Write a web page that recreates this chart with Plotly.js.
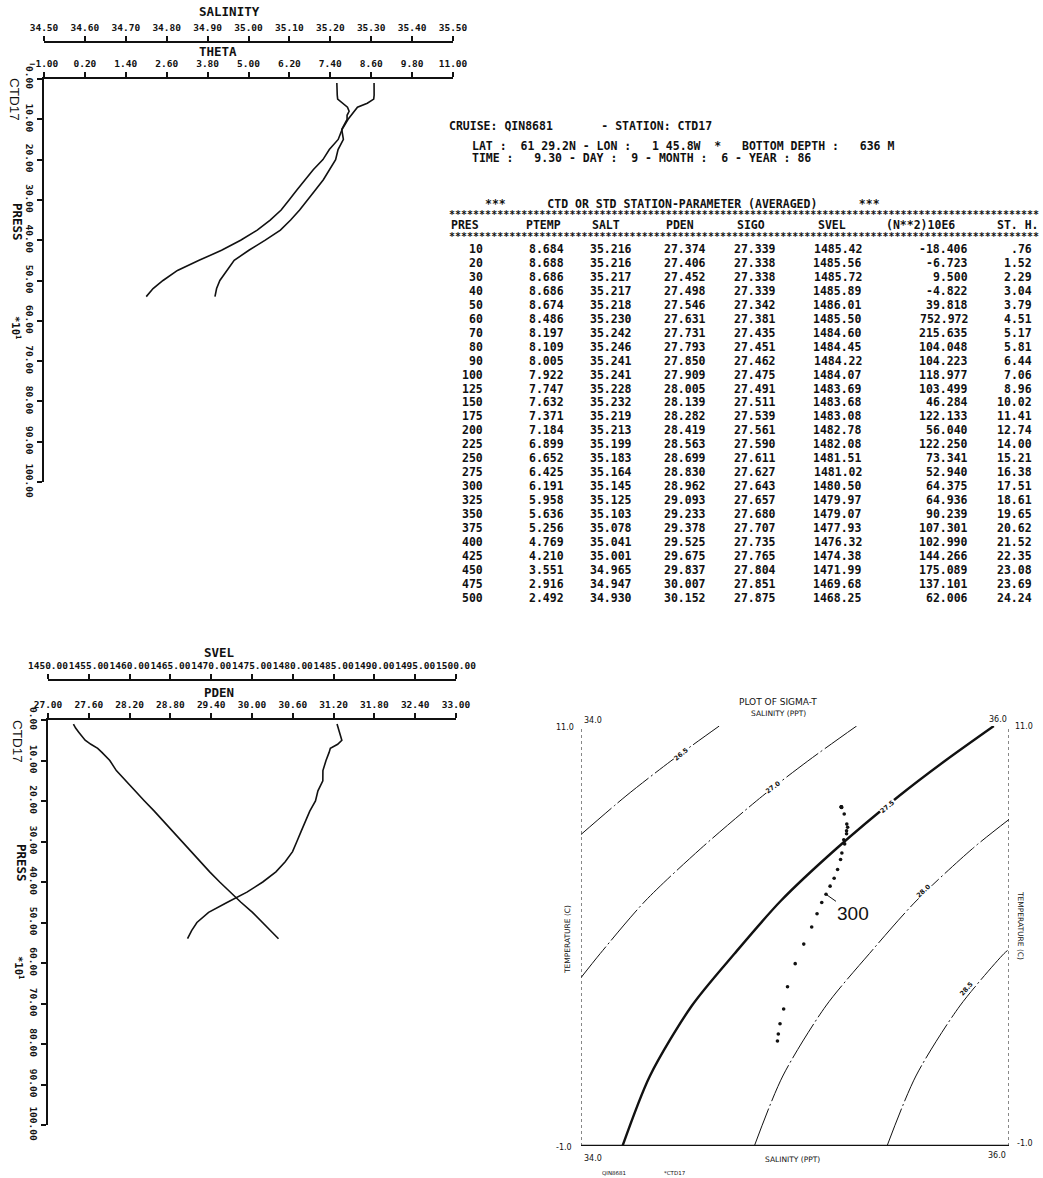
<!DOCTYPE html>
<html><head><meta charset="utf-8">
<script src="https://cdn.plot.ly/plotly-3.0.1.min.js"></script>
<style>html,body{margin:0;padding:0;background:#fff}#chart{width:1043px;height:1178px}</style>
</head><body><div id="chart"></div>
<script>
// ---- station table data (read from the listing) ----
const PRES  = [10,20,30,40,50,60,70,80,90,100,125,150,175,200,225,250,275,300,325,350,375,400,425,450,475,500];
const PTEMP = [8.684,8.688,8.686,8.686,8.674,8.486,8.197,8.109,8.005,7.922,7.747,7.632,7.371,7.184,6.899,6.652,6.425,6.191,5.958,5.636,5.256,4.769,4.210,3.551,2.916,2.492];
const SALT  = [35.216,35.216,35.217,35.217,35.218,35.230,35.242,35.246,35.241,35.241,35.228,35.232,35.219,35.213,35.199,35.183,35.164,35.145,35.125,35.103,35.078,35.041,35.001,34.965,34.947,34.930];
const PDEN  = [27.374,27.406,27.452,27.498,27.546,27.631,27.731,27.793,27.850,27.909,28.005,28.139,28.282,28.419,28.563,28.699,28.830,28.962,29.093,29.233,29.378,29.525,29.675,29.837,30.007,30.152];
const SIGO  = [27.339,27.338,27.338,27.339,27.342,27.381,27.435,27.451,27.462,27.475,27.491,27.511,27.539,27.561,27.590,27.611,27.627,27.643,27.657,27.680,27.707,27.735,27.765,27.804,27.851,27.875];
const SVEL  = [1485.42,1485.56,1485.72,1485.89,1486.01,1485.50,1484.60,1484.45,1484.22,1484.07,1483.69,1483.68,1483.08,1482.78,1482.08,1481.51,1481.02,1480.50,1479.97,1479.07,1477.93,1476.32,1474.38,1471.99,1469.68,1468.25];
const N2    = [-18.406,-6.723,9.500,-4.822,39.818,752.972,215.635,104.048,104.223,118.977,103.499,46.284,122.133,56.040,122.250,73.341,52.940,64.375,64.936,90.239,107.301,102.990,144.266,175.089,137.101,62.006];
const STH   = [0.76,1.52,2.29,3.04,3.79,4.51,5.17,5.81,6.44,7.06,8.96,10.02,11.41,12.74,14.00,15.21,16.38,17.51,18.61,19.65,20.62,21.52,22.35,23.08,23.69,24.24];

// profile continues below the last listed level
const TAIL_PRES  = [520, 540];
const TAIL_PTEMP = [2.20, 2.00];
const TAIL_SALT  = [34.922, 34.918];
const TAIL_PDEN  = [30.27, 30.39];
const TAIL_SVEL  = [1467.6, 1467.1];

// tick values
const THETA_TICKS = [-1,0.2,1.4,2.6,3.8,5,6.2,7.4,8.6,9.8,11];
const SAL_TICKS   = [34.5,34.6,34.7,34.8,34.9,35.0,35.1,35.2,35.3,35.4,35.5];
const PDEN_TICKS  = [27,27.6,28.2,28.8,29.4,30,30.6,31.2,31.8,32.4,33];
const SVEL_TICKS  = [1450,1455,1460,1465,1470,1475,1480,1485,1490,1495,1500];
const PRES_TICKS  = [0,100,200,300,400,500,600,700,800,900,1000];

// sigma-t isopleths (salinity, temperature)
const ISO_LEVELS = ['26.5','27.0','27.5','28.0','28.5'];
const ISO_S = [
  [34.00,34.21,34.42,34.646],
  [34.00,34.09,34.30,34.56,34.848,35.06,35.288],
  [34.194,34.322,34.517,34.718,34.933,35.194,35.486,35.70,35.929],
  [34.81,34.943,35.144,35.348,35.566,35.83,36.0],
  [35.43,35.565,35.77,35.977,36.0]
];
const ISO_T = [
  [7.9,9.0,10.0,11.0],
  [3.81,4.5,6.0,7.5,9.0,10.0,11.0],
  [-1,1,3,4.5,6,7.5,9,10,11],
  [-1,1,3,4.5,6,7.5,8.33],
  [-1,1,3,4.5,4.62]
];
const ISO_LABEL_S = [34.47,34.90,35.43,35.60,35.80];
const ISO_LABEL_T = [10.2,9.25,8.7,6.3,3.5];
const ISO_LABEL_ANGLE = [-39,-36,-40,-43,-49];

// ---- layout helpers ----
const W=1043, H=1178;
const px = x => x/W, py = y => 1 - y/H;
const PROF_PRES  = PRES.concat(TAIL_PRES);
const PROF_THETA = PTEMP.concat(TAIL_PTEMP);
const PROF_SALT  = SALT.concat(TAIL_SALT);
const PROF_PDEN  = PDEN.concat(TAIL_PDEN);
const PROF_SVEL  = SVEL.concat(TAIL_SVEL);

const BLK = '#111';
const TF = {family:'DejaVu Sans Mono', size:9.5, weight:'bold', color:BLK};
const axBase = {ticks:'outside', ticklen:5, tickwidth:2, tickcolor:BLK, showline:true, linewidth:2,
  linecolor:BLK, showgrid:false, zeroline:false, tickfont:TF, tickformat:'.2f', tickangle:0,
  ticklabelstandoff:1, fixedrange:true};
const yBase = Object.assign({}, axBase, {range:[1000,0], tickvals:PRES_TICKS,
  ticktext:PRES_TICKS.map(v=>(v/10).toFixed(2)), tickangle:90, ticklabelstandoff:0});

const traces = [];
const line = {color:BLK, width:1.6};
traces.push({x:PROF_THETA, y:PROF_PRES, xaxis:'x', yaxis:'y', mode:'lines', line});
traces.push({x:PROF_SALT,  y:PROF_PRES, xaxis:'x2', yaxis:'y', mode:'lines', line});
traces.push({x:PROF_PDEN,  y:PROF_PRES, xaxis:'x3', yaxis:'y2', mode:'lines', line});
traces.push({x:PROF_SVEL,  y:PROF_PRES, xaxis:'x4', yaxis:'y2', mode:'lines', line});
ISO_S.forEach((s,i)=>{
  const thick = ISO_LEVELS[i]==='27.5';
  traces.push({x:s, y:ISO_T[i], xaxis:'x5', yaxis:'y3', mode:'lines',
    line:{color:BLK, width: thick?2.4:1, shape:'spline', smoothing:0.8, dash: thick?'solid':'40px,3px,2px,3px'}});
});
traces.push({x:PROF_SALT, y:PROF_THETA, xaxis:'x5', yaxis:'y3', mode:'markers',
  marker:{color:BLK, size:3.6}, cliponaxis:false});

const ann = [];
function txt(t, x, y, o){
  ann.push(Object.assign({text:t, x:px(x), y:py(y), xref:'paper', yref:'paper', showarrow:false,
    xanchor:'left', yanchor:'middle', font:{family:'DejaVu Sans Mono', size:11.5, weight:'bold', color:BLK}}, o||{}));
}
// axis titles
const TT = {font:{family:'DejaVu Sans Mono', size:12.5, weight:'bold', color:BLK}};
txt('SALINITY', 197, 12, TT);
txt('THETA', 197, 52, TT);
txt('SVEL', 202, 652, TT);
txt('PDEN', 202, 692, TT);
// side labels
const sideReg = {family:'Liberation Sans', size:13.5, color:BLK};
const sideBold = {family:'DejaVu Sans Mono', size:12.5, weight:'bold', color:BLK};
[[99,222,328,14],[741,863,968,18]].forEach(([c,p,m,xx])=>{
  txt('CTD17', xx, c, {textangle:90, xanchor:'center', font:sideReg});
  txt('PRESS', xx+4, p, {textangle:90, xanchor:'center', font:sideBold});
  txt('*10<sup>1</sup>', xx+2, m, {textangle:90, xanchor:'center', font:{family:'DejaVu Sans Mono', size:10.5, weight:'bold', color:BLK}});
});

// station header
txt('CRUISE: QIN8681       - STATION: CTD17', 447, 126);
txt('LAT :  61 29.2N - LON :   1 45.8W  *   BOTTOM DEPTH :   636 M', 470, 146);
txt('TIME :   9.30 - DAY :  9 - MONTH :  6 - YEAR : 86', 470, 158);
txt('***      CTD OR STD STATION-PARAMETER (AVERAGED)      ***', 483, 204);
const STARS = '*'.repeat(98);
const starF = {font:{family:'DejaVu Sans Mono', size:10, weight:'bold', color:BLK}};
txt(STARS, 447, 214.5, starF);
txt(STARS, 447, 236.5, starF);
const HEAD = [['PRES',449],['PTEMP',524],['SALT',590],['PDEN',664],['SIGO',735],['SVEL',816],['(N**2)10E6',884],['ST. H.',995]];
HEAD.forEach(([t,x])=>txt(t, x, 225.5));
const f3 = v=>v.toFixed(3), f2 = v=>v.toFixed(2);
const COLS = [
  [PRES, v=>String(v), 485], [PTEMP, f3, 566], [SALT, f3, 634], [PDEN, f3, 708],
  [SIGO, f3, 778], [SVEL, f2, 864], [N2, f3, 970], [STH, v=>v<1?f2(v).replace(/^0/,''):f2(v), 1034]
];
const ROW_Y0 = 249, ROW_DY = 13.95;
PRES.forEach((p,i)=>{
  COLS.forEach(([arr,f,xr])=>txt(f(arr[i]), xr, ROW_Y0+i*ROW_DY, {xanchor:'right'}));
});

// T-S diagram labels
const tsF = s => ({family:'DejaVu Sans', size:s, color:BLK});
txt('PLOT OF SIGMA-T', 778, 702, {xanchor:'center', font:tsF(9)});
txt('SALINITY (PPT)', 778, 713, {xanchor:'center', font:tsF(7.5)});
txt('34.0', 582, 721, {font:tsF(8)});
txt('36.0', 1009, 719, {xanchor:'right', font:tsF(8)});
txt('11.0', 576, 728, {xanchor:'right', font:tsF(8)});
txt('11.0', 1013, 726, {font:tsF(8)});
txt('-1.0', 574, 1147, {xanchor:'right', font:tsF(8)});
txt('34.0', 582, 1158, {font:tsF(8)});
txt('SALINITY (PPT)', 792, 1159, {xanchor:'center', font:tsF(7.5)});
txt('36.0', 1008, 1155, {xanchor:'right', font:tsF(8)});
txt('-1.0', 1015, 1143, {font:tsF(8)});
txt('TEMPERATURE (C)', 567, 940, {xanchor:'center', textangle:-90, font:tsF(7.5)});
txt('TEMPERATURE (C)', 1021, 925, {xanchor:'center', textangle:90, font:tsF(7.5)});
txt('QIN8681', 600, 1173, {font:tsF(5.5)});
txt('*CTD17', 662, 1173, {font:tsF(5.5)});
ISO_LEVELS.forEach((l,i)=>{
  ann.push({text:l, x:ISO_LABEL_S[i], y:ISO_LABEL_T[i], xref:'x5', yref:'y3', showarrow:false,
    textangle:ISO_LABEL_ANGLE[i], bgcolor:'#fff', borderpad:0, font:{family:'DejaVu Sans', size:6.5, weight:'bold', color:BLK}});
});
const i300 = PRES.indexOf(300);
ann.push({text:'300', x:SALT[i300], y:PTEMP[i300], xref:'x5', yref:'y3', showarrow:true, arrowhead:0,
  arrowwidth:1, arrowcolor:BLK, ax:27, ay:19, font:{family:'Liberation Sans', size:19, color:BLK}});

const shapes = [
  {type:'line', xref:'x5', yref:'y3', x0:34, x1:34, y0:-1, y1:11, line:{color:BLK, width:1, dash:'dot'}},
  {type:'line', xref:'x5', yref:'y3', x0:36, x1:36, y0:-1, y1:11, line:{color:BLK, width:1, dash:'dot'}},
  {type:'line', xref:'x5', yref:'y3', x0:34, x1:36, y0:-1, y1:-1, line:{color:BLK, width:2.4}}
];

const layout = {
  width:W, height:H, margin:{l:0,r:0,t:0,b:0}, paper_bgcolor:'#fff', plot_bgcolor:'rgba(0,0,0,0)',
  showlegend:false, hovermode:false, annotations:ann, shapes:shapes,
  xaxis: Object.assign({}, axBase, {domain:[px(44),px(453)], range:[-1,11], tickvals:THETA_TICKS, side:'top', anchor:'y'}),
  xaxis2: Object.assign({}, axBase, {overlaying:'x', anchor:'free', position:py(42), side:'top', range:[34.5,35.5], tickvals:SAL_TICKS}),
  yaxis: Object.assign({}, yBase, {domain:[py(482),py(79)], anchor:'x'}),
  xaxis3: Object.assign({}, axBase, {domain:[px(48),px(456)], range:[27,33], tickvals:PDEN_TICKS, side:'top', anchor:'y2'}),
  xaxis4: Object.assign({}, axBase, {overlaying:'x3', anchor:'free', position:py(680), side:'top', range:[1450,1500], tickvals:SVEL_TICKS}),
  yaxis2: Object.assign({}, yBase, {domain:[py(1125),py(720)], anchor:'x3'}),
  xaxis5: {domain:[px(581),px(1009)], range:[34,36], visible:false, anchor:'y3', fixedrange:true},
  yaxis3: {domain:[py(1146),py(726)], range:[-1,11], visible:false, anchor:'x5', fixedrange:true}
};
Plotly.newPlot('chart', traces, layout, {staticPlot:true, displayModeBar:false});
</script></body></html>
